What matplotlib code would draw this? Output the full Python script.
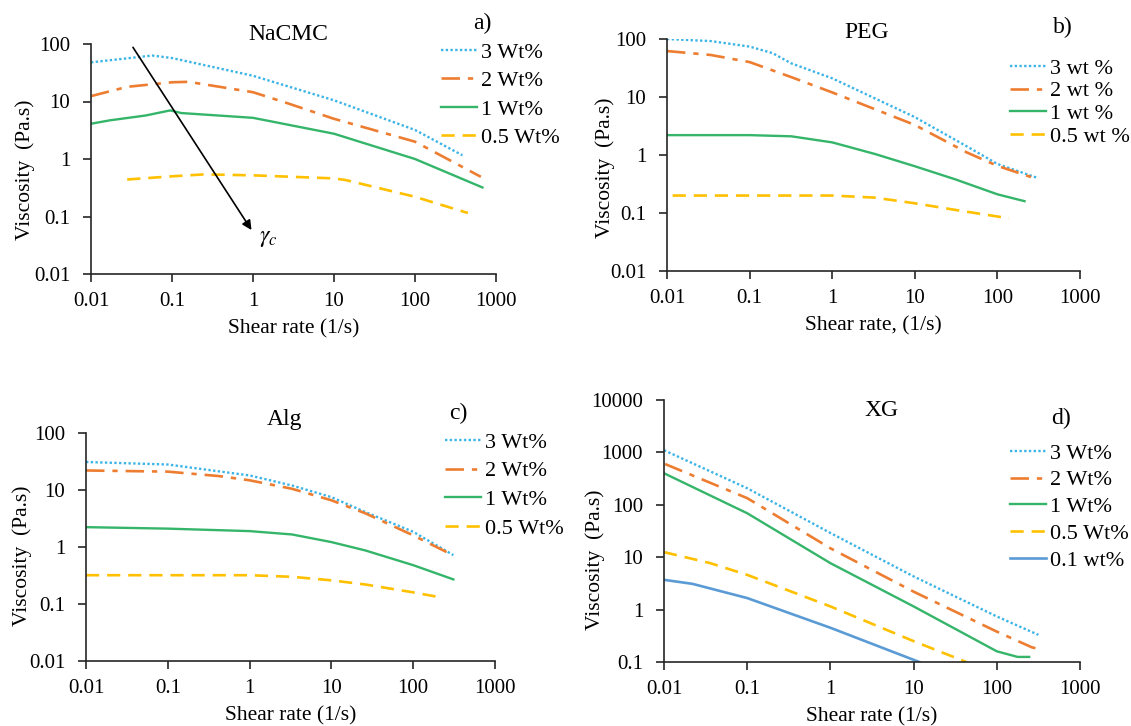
import matplotlib
matplotlib.use("Agg")
import matplotlib.pyplot as plt
from matplotlib.ticker import FixedLocator, FixedFormatter

plt.rcParams['font.family'] = ['Liberation Serif', 'DejaVu Serif']
plt.rcParams['mathtext.fontset'] = 'stix'
plt.rcParams['font.size'] = 15

# ---------------- data ----------------
# a) NaCMC
a3_x = [0.01, 0.057, 0.1, 1, 10, 100, 385]
a3_y = [48, 63, 57, 28, 10.5, 3.2, 1.16]
a2_x = [0.01, 0.028, 0.1, 0.16, 1, 2.4, 10, 100, 650]
a2_y = [12.4, 18, 21.6, 22, 14.5, 9.8, 5.0, 2.0, 0.49]
a1_x = [0.01, 0.017, 0.047, 0.095, 0.13, 1, 10, 100, 680]
a1_y = [4.1, 4.7, 5.7, 7.0, 6.3, 5.2, 2.75, 1.0, 0.32]
a05_x = [0.028, 0.1, 0.25, 1, 10, 14, 100, 450]
a05_y = [0.44, 0.5, 0.54, 0.52, 0.46, 0.43, 0.22, 0.115]

# b) PEG
b3_x = [0.01, 0.034, 0.1, 0.19, 0.32, 1, 10, 43, 100, 310]
b3_y = [100, 92, 74, 57, 38, 21, 4.5, 1.4, 0.7, 0.4]
b2_x = [0.01, 0.034, 0.1, 0.32, 1, 10, 43, 100, 310]
b2_y = [62, 53, 40, 22, 12, 3.3, 1.1, 0.65, 0.38]
b1_x = [0.01, 0.1, 0.32, 1, 3.3, 10, 31, 100, 213]
b1_y = [2.2, 2.2, 2.1, 1.65, 1.04, 0.64, 0.38, 0.21, 0.16]
b05_x = [0.0117, 1, 3.3, 10, 31, 138]
b05_y = [0.2, 0.2, 0.184, 0.147, 0.113, 0.081]

# c) Alg
c3_x = [0.01, 0.1, 1, 3.3, 10, 26, 100, 310]
c3_y = [31, 28, 18, 12, 7.5, 4.1, 1.85, 0.72]
c2_x = [0.01, 0.1, 0.43, 1, 3.3, 10, 26, 100, 310]
c2_y = [22, 21, 17.5, 14.8, 10.5, 6.6, 3.9, 1.6, 0.71]
c1_x = [0.01, 0.1, 1, 3.3, 10, 26, 100, 310]
c1_y = [2.23, 2.1, 1.9, 1.66, 1.22, 0.87, 0.48, 0.27]
c05_x = [0.01, 1, 3.3, 10, 26, 100, 220]
c05_y = [0.32, 0.32, 0.3, 0.26, 0.22, 0.16, 0.13]

# d) XG
d3_x = [0.01, 0.1, 1, 10, 100, 316]
d3_y = [1100, 207, 29, 4.3, 0.74, 0.33]
d2_x = [0.0103, 0.1, 1, 10, 100, 265, 310]
d2_y = [600, 134, 14.8, 2.2, 0.38, 0.19, 0.18]
d1_x = [0.01, 0.1, 1, 10, 100, 178, 245]
d1_y = [400, 69, 7.7, 1.15, 0.16, 0.125, 0.125]
d05_x = [0.01, 0.036, 0.1, 1, 10, 43]
d05_y = [12.5, 7.7, 4.6, 1.15, 0.25, 0.1]
d01_x = [0.01, 0.022, 0.1, 1, 10, 11.7]
d01_y = [3.7, 3.1, 1.66, 0.45, 0.11, 0.1]

labels_W = ['3 Wt%', '2 Wt%', '1 Wt%', '0.5 Wt%']
labels_w = ['3 wt %', '2 wt %', '1 wt %', '0.5 wt %']

xticks = [0.01, 0.1, 1, 10, 100, 1000]
xtick_labels = ['0.01', '0.1', '1', '10', '100', '1000']
yticks_abc = [0.01, 0.1, 1, 10, 100]
ylabels_abc = ['0.01', '0.1', '1', '10', '100']
yticks_d = [0.1, 1, 10, 100, 1000, 10000]
ylabels_d = ['0.1', '1', '10', '100', '1000', '10000']

# ---------------- styles ----------------
c_blue = '#3bb4e6'
c_orange = '#ed7d31'
c_green = '#35b56a'
c_yellow = '#ffc000'
c_navy = '#5b9bd5'
styles = [
    dict(color=c_blue, linestyle=(0, (1, 1)), lw=1.7),
    dict(color=c_orange, linestyle=(0, (7, 3, 2, 3)), lw=1.9),
    dict(color=c_green, linestyle='-', lw=1.7),
    dict(color=c_yellow, linestyle=(0, (5, 3)), lw=1.9),
    dict(color=c_navy, linestyle='-', lw=1.9),
]

W, H = 1131, 726
fig = plt.figure(figsize=(W / 100, H / 100), dpi=100)


def px_axes(left, top, right, bottom):
    ax = fig.add_axes([left / W, 1 - bottom / H, (right - left) / W, (bottom - top) / H])
    ax.box_px = (left, top, right, bottom)
    return ax


def style_axes(ax, yticks, ylabels, xlabel, ylab_px):
    ax.set_xscale('log')
    ax.set_yscale('log')
    ax.set_xlim(0.01, 1000)
    ax.set_ylim(yticks[0], yticks[-1])
    ax.xaxis.set_major_locator(FixedLocator(xticks))
    ax.xaxis.set_major_formatter(FixedFormatter(xtick_labels))
    ax.yaxis.set_major_locator(FixedLocator(yticks))
    ax.yaxis.set_major_formatter(FixedFormatter(ylabels))
    ax.xaxis.set_minor_locator(FixedLocator([]))
    ax.yaxis.set_minor_locator(FixedLocator([]))
    for s in ['top', 'right']:
        ax.spines[s].set_visible(False)
    for s in ['left', 'bottom']:
        ax.spines[s].set_color('#262626')
        ax.spines[s].set_linewidth(1.2)
    ax.tick_params(direction='out', length=6, width=1.2, color='#262626', labelsize=15)
    ax.tick_params(axis='x', pad=7)
    ax.tick_params(axis='y', pad=9)
    ax.set_xlabel(xlabel, fontsize=15.5, labelpad=6)
    ax.set_ylabel('Viscosity  (Pa.s)', fontsize=15.5, va='center')
    left, top, right, bottom = ax.box_px
    ax.yaxis.set_label_coords((ylab_px[0] - left) / (right - left),
                              (bottom - ylab_px[1]) / (bottom - top))


def add_legend(handles, labels, x, y, spacing):
    fig.legend(handles, labels, loc='upper left', bbox_to_anchor=(x / W, 1 - y / H),
               frameon=False, fontsize=16, handlelength=1.6, handletextpad=0.2,
               labelspacing=spacing, borderpad=0, borderaxespad=0)


# a) NaCMC
ax = px_axes(91, 44, 496, 274)
ha = []
for (xs, ys), st in zip([(a3_x, a3_y), (a2_x, a2_y), (a1_x, a1_y), (a05_x, a05_y)], styles):
    ha.append(ax.plot(xs, ys, **st)[0])
style_axes(ax, yticks_abc, ylabels_abc, 'Shear rate (1/s)', (25, 170))
ax.annotate('', xy=(1.0, 0.053), xytext=(0.0316, 96),
            arrowprops=dict(arrowstyle='-|>', color='black', lw=1.2, mutation_scale=14))
ax.text(1.2, 0.042, r'$\gamma_c$', fontsize=17, va='center', ha='left')
fig.text(288 / W, 1 - 35 / H, 'NaCMC', ha='center', va='center', fontsize=17)
fig.text(482 / W, 1 - 23 / H, 'a)', ha='center', va='center', fontsize=17)
add_legend(ha, labels_W, 441, 42, 0.36)

# b) PEG
ax = px_axes(667, 39, 1080, 271)
hb = []
for (xs, ys), st in zip([(b3_x, b3_y), (b2_x, b2_y), (b1_x, b1_y), (b05_x, b05_y)], styles):
    hb.append(ax.plot(xs, ys, **st)[0])
style_axes(ax, yticks_abc, ylabels_abc, 'Shear rate, (1/s)', (605, 168))
fig.text(867 / W, 1 - 33 / H, 'PEG', ha='center', va='center', fontsize=17)
fig.text(1063 / W, 1 - 27 / H, 'b)', ha='center', va='center', fontsize=17)
add_legend(hb, labels_w, 1010, 58, 0.1)

# c) Alg
ax = px_axes(86, 433, 495, 661)
hc = []
for (xs, ys), st in zip([(c3_x, c3_y), (c2_x, c2_y), (c1_x, c1_y), (c05_x, c05_y)], styles):
    hc.append(ax.plot(xs, ys, **st)[0])
style_axes(ax, yticks_abc, ylabels_abc, 'Shear rate (1/s)', (22, 556))
fig.text(285 / W, 1 - 420 / H, 'Alg', ha='center', va='center', fontsize=17)
fig.text(458 / W, 1 - 413 / H, 'c)', ha='center', va='center', fontsize=17)
add_legend(hc, labels_W, 445, 432, 0.37)

# d) XG
ax = px_axes(664, 400, 1080, 662)
hd = []
for (xs, ys), st in zip([(d3_x, d3_y), (d2_x, d2_y), (d1_x, d1_y), (d05_x, d05_y), (d01_x, d01_y)], styles):
    hd.append(ax.plot(xs, ys, **st)[0])
style_axes(ax, yticks_d, ylabels_d, 'Shear rate (1/s)', (595, 560))
fig.text(882 / W, 1 - 410 / H, 'XG', ha='center', va='center', fontsize=17)
fig.text(1061 / W, 1 - 418 / H, 'd)', ha='center', va='center', fontsize=17)
add_legend(hd, labels_W + ['0.1 wt%'], 1010, 443, 0.28)

fig.savefig('out.png', dpi=100)
